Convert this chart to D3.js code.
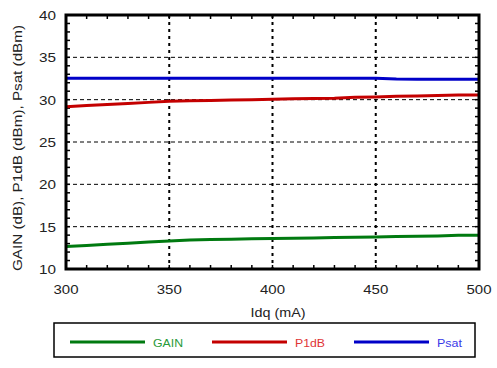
<!DOCTYPE html>
<html><head><meta charset="utf-8">
<script src="https://cdn.jsdelivr.net/npm/d3@7"></script>
<style>body{margin:0;background:#fff}svg{display:block;font-family:"Liberation Sans",Arial,sans-serif}</style>
</head><body>
<svg id="c" width="497" height="368"></svg>
<script>
const idq = [300,310,320,330,340,350,360,370,380,390,400,410,420,430,440,450,460,470,480,490,500];
const gain = [12.65,12.78,12.92,13.05,13.18,13.3,13.42,13.47,13.52,13.56,13.6,13.63,13.66,13.72,13.75,13.78,13.84,13.87,13.9,13.98,14.0];
const p1db = [29.17,29.3,29.43,29.56,29.68,29.8,29.86,29.9,29.95,30.0,30.04,30.1,30.15,30.18,30.28,30.32,30.4,30.44,30.48,30.55,30.56];
const psat = [32.52,32.52,32.52,32.52,32.52,32.52,32.52,32.52,32.52,32.52,32.52,32.52,32.52,32.52,32.52,32.52,32.43,32.42,32.42,32.42,32.42];
const xTicks = [300,350,400,450,500];
const yTicks = [10,15,20,25,30,35,40];
const seriesNames = ["GAIN","P1dB","Psat"];
const lineColors = ["#007a10","#c40000","#0000c8"];
const textColors = ["#2a9a3a","#e03535","#3a3ae8"];

const svg = d3.select("#c");
const L=66,R=479,T=15,B=269;
const x = d3.scaleLinear().domain([300,500]).range([L,R]);
const y = d3.scaleLinear().domain([10,40]).range([B,T]);

// horizontal dashed grid
svg.append("g").selectAll("line").data(yTicks.filter(v=>v>10&&v<40)).join("line")
  .attr("x1",L).attr("x2",R).attr("y1",d=>y(d)).attr("y2",d=>y(d))
  .attr("stroke","#000").attr("stroke-width",1).attr("stroke-dasharray","4,3");
// vertical dotted grid
svg.append("g").selectAll("line").data(xTicks.filter(v=>v>300&&v<500)).join("line")
  .attr("x1",d=>x(d)).attr("x2",d=>x(d)).attr("y1",T).attr("y2",B)
  .attr("stroke","#000").attr("stroke-width",2).attr("stroke-dasharray","3,4");

// minor ticks
const xMinor = d3.range(300,501,10), yMinor = d3.range(10,41,1);
const tk = svg.append("g").attr("stroke","#000").attr("stroke-width",1.5);
tk.selectAll(".xb").data(xMinor).join("line").attr("x1",d=>x(d)).attr("x2",d=>x(d)).attr("y1",B).attr("y2",B-4);
tk.selectAll(".xt").data(xMinor).join("line").attr("x1",d=>x(d)).attr("x2",d=>x(d)).attr("y1",T).attr("y2",T+4);
tk.selectAll(".yl").data(yMinor).join("line").attr("y1",d=>y(d)).attr("y2",d=>y(d)).attr("x1",L).attr("x2",L+4);
tk.selectAll(".yr").data(yMinor).join("line").attr("y1",d=>y(d)).attr("y2",d=>y(d)).attr("x1",R).attr("x2",R-4);

// lines
const all=[gain,p1db,psat];
const line = d3.line().x((d,i)=>x(idq[i])).y(d=>y(d));
all.forEach((s,k)=>{
  svg.append("path").datum(s).attr("d",line).attr("fill","none")
    .attr("stroke",lineColors[k]).attr("stroke-width",3);
});

// frame
svg.append("rect").attr("x",L).attr("y",T).attr("width",R-L).attr("height",B-T)
  .attr("fill","none").attr("stroke","#000").attr("stroke-width",3);

// tick labels
svg.append("g").selectAll("text").data(xTicks).join("text")
  .attr("x",d=>x(d)).attr("y",294).attr("text-anchor","middle")
  .attr("font-size",13).attr("fill","#222")
  .attr("textLength",25).attr("lengthAdjust","spacingAndGlyphs").text(d=>d);
svg.append("g").selectAll("text").data(yTicks).join("text")
  .attr("x",56).attr("y",d=>y(d)+5).attr("text-anchor","end")
  .attr("font-size",13).attr("fill","#222")
  .attr("textLength",17).attr("lengthAdjust","spacingAndGlyphs").text(d=>d);

// axis titles
svg.append("text").attr("x",278).attr("y",317).attr("text-anchor","middle")
  .attr("font-size",13).attr("fill","#222")
  .attr("textLength",55).attr("lengthAdjust","spacingAndGlyphs").text("Idq (mA)");
svg.append("text").attr("transform","translate(22,148) rotate(-90)").attr("text-anchor","middle")
  .attr("font-size",13.5).attr("fill","#222")
  .attr("textLength",246).attr("lengthAdjust","spacingAndGlyphs").text("GAIN (dB), P1dB (dBm), Psat (dBm)");

// legend
svg.append("rect").attr("x",54).attr("y",323).attr("width",421).attr("height",34)
  .attr("fill","none").attr("stroke","#000").attr("stroke-width",1.5);
const legW=[30,30,25];
const lg = svg.append("g").selectAll("g").data(seriesNames).join("g")
  .attr("transform",(d,i)=>`translate(${70+i*142},342)`);
lg.append("line").attr("x1",0).attr("x2",75).attr("y1",0).attr("y2",0)
  .attr("stroke",(d,i)=>lineColors[i]).attr("stroke-width",3);
lg.append("text").attr("x",83).attr("y",4.5).attr("font-size",11.5)
  .attr("fill",(d,i)=>textColors[i])
  .attr("textLength",(d,i)=>legW[i]).attr("lengthAdjust","spacingAndGlyphs").text(d=>d);
</script>
</body></html>
